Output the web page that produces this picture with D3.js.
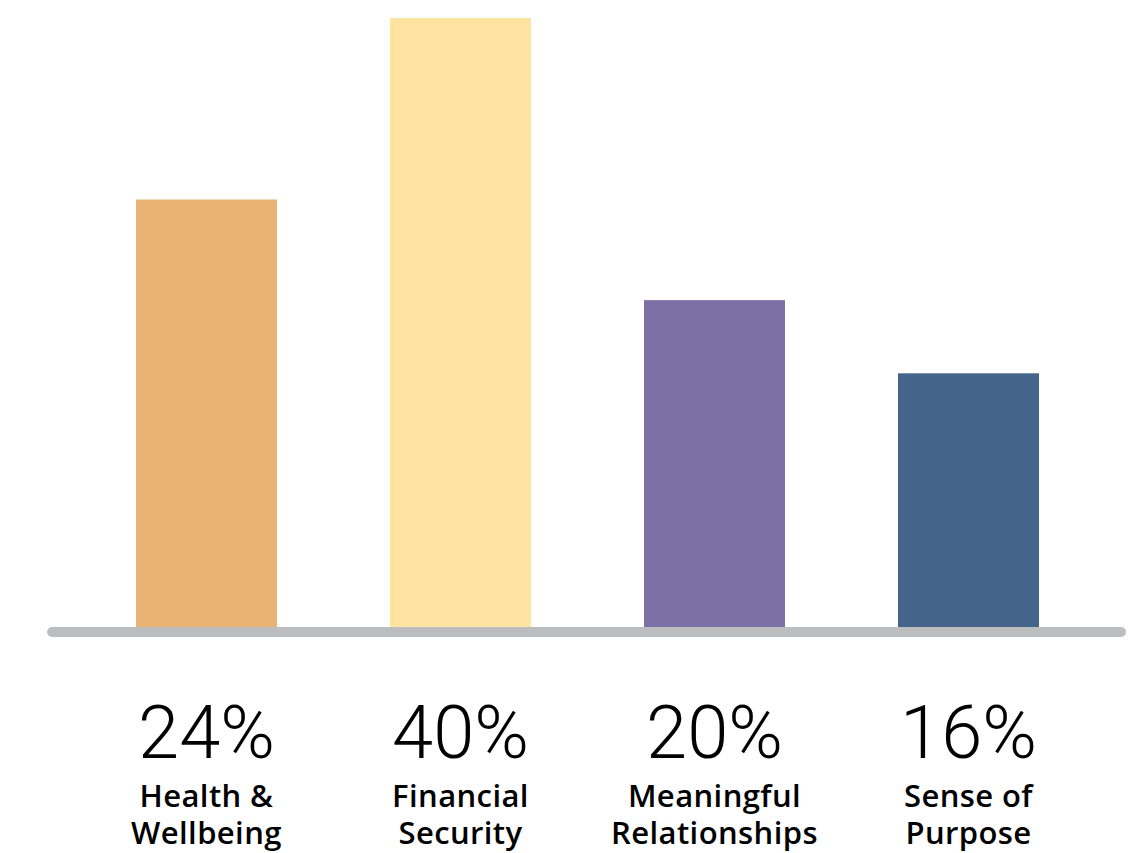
<!DOCTYPE html>
<html lang="en">
  <head>
    <meta charset="UTF-8" />
    <title>Bar chart</title>
    <script src="https://cdn.jsdelivr.net/npm/d3@7/dist/d3.min.js"></script>
    <style>
      html, body { margin: 0; padding: 0; background: #fff; }
      #svgBox { display: block; }
    </style>
  </head>
  <body>
    <svg id="svgBox" width="1137" height="853"></svg>
  </body>
  <script>
    // data
    const categories = ['Health &\nWellbeing', 'Financial\nSecurity', 'Meaningful\nRelationships', 'Sense of\nPurpose']
    // drawn bar heights (relative units)
    const barValues = [28.1, 40, 21.5, 16.7]
    const pctLabels = ['24%', '40%', '20%', '16%']
    const colors = ['#E8B374', '#FFE3A0', '#7B71A6', '#446589']

    function init() {
      const svg = d3.select('#svgBox')
      const baseline = 628
      const topY = 18

      const xScale = d3
        .scaleBand()
        .domain(d3.range(categories.length))
        .range([136, 1039])
        .paddingInner(0.445)
        .paddingOuter(0)

      const yScale = d3
        .scaleLinear()
        .domain([0, d3.max(barValues)])
        .range([baseline, topY])

      const g = svg.append('g')

      g.selectAll('rect.bar')
        .data(barValues)
        .join('rect')
        .attr('class', 'bar')
        .attr('x', (d, i) => xScale(i))
        .attr('y', d => yScale(d))
        .attr('width', xScale.bandwidth())
        .attr('height', d => baseline - yScale(d))
        .attr('fill', (d, i) => colors[i])

      // axis line
      g.append('line')
        .attr('x1', 52)
        .attr('x2', 1121)
        .attr('y1', baseline + 4)
        .attr('y2', baseline + 4)
        .attr('stroke', '#BCBDBF')
        .attr('stroke-width', 10)
        .attr('stroke-linecap', 'round')

      // percentages
      g.selectAll('text.pct')
        .data(pctLabels)
        .join('text')
        .attr('class', 'pct')
        .attr('x', (d, i) => xScale(i) + xScale.bandwidth() / 2)
        .attr('y', 758)
        .attr('text-anchor', 'middle')
        .style('font-family', 'Roboto, sans-serif')
        .style('font-weight', 300)
        .style('font-size', '74px')
        .style('fill', '#000')
        .text(d => d)

      // category labels, one text per line
      const lines = []
      categories.forEach((c, i) => c.split('\n').forEach((s, j) => lines.push({ s, i, j })))
      g.selectAll('text.cat')
        .data(lines)
        .join('text')
        .attr('class', 'cat')
        .attr('x', d => xScale(d.i) + xScale.bandwidth() / 2)
        .attr('y', d => 807 + d.j * 37)
        .attr('text-anchor', 'middle')
        .style('font-family', '"Open Sans", sans-serif')
        .style('font-weight', 600)
        .style('font-size', '31px')
        .style('letter-spacing', '0.4px')
        .style('fill', '#000')
        .text(d => d.s)
    }
    init()
  </script>
</html>
